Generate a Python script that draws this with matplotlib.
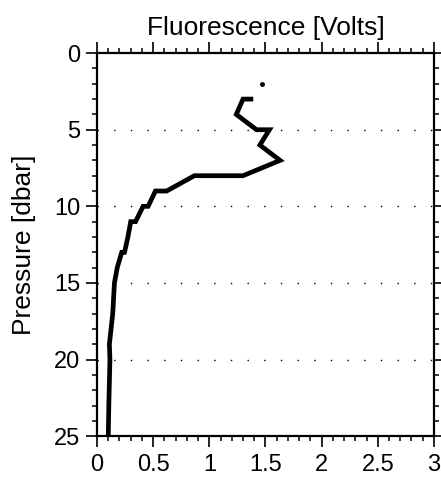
import matplotlib
matplotlib.use("Agg")
import matplotlib.pyplot as plt
from matplotlib.ticker import MultipleLocator

plt.rcParams['font.family'] = ['Liberation Sans', 'DejaVu Sans']

# profile vertices
fluor = [1.37, 1.30, 1.24, 1.42, 1.535, 1.45, 1.63, 1.30, 0.867, 0.62, 0.52,
         0.455, 0.41, 0.343, 0.30, 0.275, 0.245, 0.22, 0.18, 0.155, 0.14,
         0.11, 0.115, 0.105, 0.10]
pres = [3, 3, 4, 5, 5, 6, 7, 8, 8, 9, 9, 10, 10, 11, 11, 12, 13, 13, 14, 15,
        17, 19, 20, 23, 25]

# lone sample above the profile
dot_fluor = [1.47]
dot_pres = [2]

grid_pres = [5, 10, 15, 20]

fig = plt.figure(figsize=(4.41, 4.83), dpi=100)
ax = fig.add_axes([0.220, 0.097, 0.764, 0.793])

for g in grid_pres:
    ax.axhline(g, color='black', linewidth=1.0, linestyle=(0, (1, 11)), zorder=1)

ax.plot(fluor, pres, color='black', linewidth=3.4, solid_joinstyle='miter', zorder=3)
ax.plot(dot_fluor, dot_pres, 'o', color='black', markersize=2.5, zorder=3)

ax.set_xlim(0, 3)
ax.set_ylim(25, 0)
ax.xaxis.set_major_locator(MultipleLocator(0.5))
ax.xaxis.set_minor_locator(MultipleLocator(0.1))
ax.yaxis.set_major_locator(MultipleLocator(5))
ax.yaxis.set_minor_locator(MultipleLocator(1))
ax.set_xticks([0, 0.5, 1, 1.5, 2, 2.5, 3])
ax.set_xticklabels(['0', '0.5', '1', '1.5', '2', '2.5', '3'])

ax.tick_params(which='major', direction='out', length=8, width=1.2,
               labelsize=17, top=True, right=True, pad=5)
ax.tick_params(which='minor', direction='out', length=3.5, width=1.1,
               top=True, right=True)
ax.tick_params(axis='y', which='major', pad=4)

for s in ax.spines.values():
    s.set_linewidth(1.6)

ax.set_title('Fluorescence [Volts]', fontsize=19, pad=13)
ax.set_ylabel('Pressure [dbar]', fontsize=19, labelpad=13)

fig.savefig('out.png', dpi=100)
